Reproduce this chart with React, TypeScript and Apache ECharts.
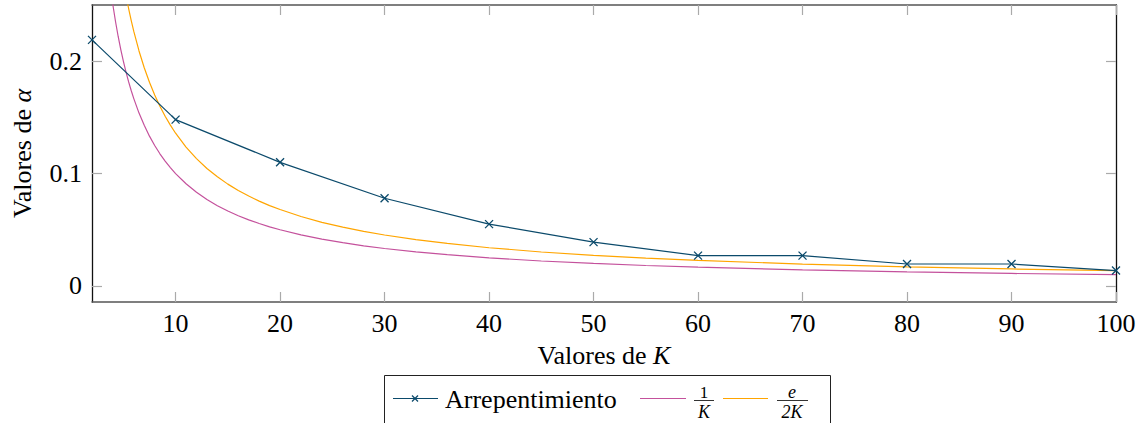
import React, { useEffect, useRef } from "react";
import * as echarts from "echarts";

const regretK = [2, 10, 20, 30, 40, 50, 60, 70, 80, 90, 100];
const regretVals = [0.219, 0.148, 0.11, 0.078, 0.055, 0.039, 0.027, 0.027, 0.0195, 0.0195, 0.0137];

const curveK = [2, 2.5, 3, 3.5, 4, 4.25, 4.5, 4.75, 5, 5.25, 5.5, 5.75, 6, 6.5, 7, 7.5, 8, 8.5, 9, 9.5, 10, 11, 12, 13, 14, 15, 16, 17, 18, 19, 20, 22, 24, 26, 28, 30, 33, 36, 40, 45, 50, 55, 60, 70, 80, 90, 100];
const invK = [0.5, 0.4, 0.3333, 0.2857, 0.25, 0.2353, 0.2222, 0.2105, 0.2, 0.1905, 0.1818, 0.1739, 0.1667, 0.1538, 0.1429, 0.1333, 0.125, 0.1176, 0.1111, 0.1053, 0.1, 0.0909, 0.0833, 0.0769, 0.0714, 0.0667, 0.0625, 0.0588, 0.0556, 0.0526, 0.05, 0.0455, 0.0417, 0.0385, 0.0357, 0.0333, 0.0303, 0.0278, 0.025, 0.0222, 0.02, 0.0182, 0.0167, 0.0143, 0.0125, 0.0111, 0.01];
const eOver2K = [0.6796, 0.5437, 0.4531, 0.3883, 0.3398, 0.3198, 0.302, 0.2861, 0.2718, 0.2589, 0.2471, 0.2364, 0.2265, 0.2091, 0.1942, 0.1812, 0.1699, 0.1599, 0.151, 0.1431, 0.1359, 0.1236, 0.1133, 0.1045, 0.0971, 0.0906, 0.0849, 0.08, 0.0755, 0.0715, 0.068, 0.0618, 0.0566, 0.0523, 0.0485, 0.0453, 0.0412, 0.0378, 0.034, 0.0302, 0.0272, 0.0247, 0.0227, 0.0194, 0.017, 0.0151, 0.0136];

const xTicks = [10, 20, 30, 40, 50, 60, 70, 80, 90, 100];
const yTicks = [0, 0.1, 0.2];

const NAVY = "#0b4a6b";
const PINK = "#c4519c";
const ORANGE = "#ffa500";
const FONT = "Liberation Serif";
const FS = 26;

export default function App() {
  const ref = useRef<HTMLDivElement>(null);
  useEffect(() => {
    const chart = echarts.init(ref.current!, null, { renderer: "svg" });
    const tickStyle = { show: true, inside: true, length: 10, lineStyle: { color: "#aaa", width: 1.2 } };
    const hLine = { show: true, onZero: false, lineStyle: { color: "#555", width: 1.5 } };
    const vLine = { show: true, onZero: false, lineStyle: { color: "#111", width: 1.3 } };
    chart.setOption({
      animation: false,
      backgroundColor: "#fff",
      textStyle: { fontFamily: FONT },
      grid: { left: 92, right: 31, top: 5, bottom: 121, containLabel: false },
      xAxis: [
        {
          type: "value",
          min: 2,
          max: 100,
          axisLine: hLine,
          axisTick: { ...tickStyle, customValues: xTicks },
          axisLabel: { customValues: xTicks, color: "#000", fontFamily: FONT, fontSize: FS, margin: 8 },
          splitLine: { show: false },
          name: "Valores de {i|K}",
          nameLocation: "middle",
          nameGap: 40,
          nameTextStyle: {
            color: "#000",
            fontFamily: FONT,
            fontSize: FS,
            rich: { i: { fontStyle: "italic", fontFamily: FONT, fontSize: FS } },
          },
        },
        {
          type: "value",
          position: "top",
          min: 2,
          max: 100,
          axisLine: hLine,
          axisTick: { ...tickStyle, customValues: xTicks },
          axisLabel: { show: false },
          splitLine: { show: false },
        },
      ],
      yAxis: [
        {
          type: "value",
          min: -0.0143,
          max: 0.25,
          axisLine: vLine,
          axisTick: { ...tickStyle, customValues: yTicks },
          axisLabel: {
            customValues: yTicks,
            color: "#000",
            fontFamily: FONT,
            fontSize: FS,
            margin: 10,
            formatter: (v: number) => (v === 0 ? "0" : String(Math.round(v * 10) / 10)),
          },
          splitLine: { show: false },
          name: "Valores de {i|α}",
          nameLocation: "middle",
          nameRotate: 90,
          nameGap: 57,
          nameTextStyle: {
            color: "#000",
            fontFamily: FONT,
            fontSize: FS,
            rich: { i: { fontStyle: "italic", fontFamily: FONT, fontSize: FS } },
          },
        },
        {
          type: "value",
          position: "right",
          min: -0.0143,
          max: 0.25,
          axisLine: vLine,
          axisTick: { ...tickStyle, customValues: yTicks },
          axisLabel: { show: false },
          splitLine: { show: false },
        },
      ],
      series: [
        {
          name: "1/K",
          type: "line",
          data: curveK.map((k, i) => [k, invK[i]]),
          showSymbol: false,
          clip: true,
          lineStyle: { color: PINK, width: 1.2 },
          itemStyle: { color: PINK },
        },
        {
          name: "e/2K",
          type: "line",
          data: curveK.map((k, i) => [k, eOver2K[i]]),
          showSymbol: false,
          clip: true,
          lineStyle: { color: ORANGE, width: 1.2 },
          itemStyle: { color: ORANGE },
        },
        {
          name: "Arrepentimiento",
          type: "line",
          data: regretK.map((k, i) => [k, regretVals[i]]),
          symbol: "path://M0,0L10,10M10,0L0,10",
          symbolSize: 8,
          clip: false,
          lineStyle: { color: NAVY, width: 1.2 },
          itemStyle: { color: "none", borderColor: NAVY, borderWidth: 1.3 },
        },
      ],
      graphic: [
        {
          type: "rect",
          shape: { x: 384.5, y: 375.5, width: 446, height: 60 },
          style: { fill: "#fff", stroke: "#222", lineWidth: 1 },
          z: 100,
        },
        { type: "line", shape: { x1: 393, y1: 398.5, x2: 438, y2: 398.5 }, style: { stroke: NAVY, lineWidth: 1.2 }, z: 101 },
        { type: "line", shape: { x1: 412, y1: 395.5, x2: 418, y2: 401.5 }, style: { stroke: NAVY, lineWidth: 1.2 }, z: 101 },
        { type: "line", shape: { x1: 418, y1: 395.5, x2: 412, y2: 401.5 }, style: { stroke: NAVY, lineWidth: 1.2 }, z: 101 },
        {
          type: "text",
          x: 445,
          y: 399,
          style: { text: "Arrepentimiento", fontFamily: FONT, fontSize: FS, fill: "#000", textVerticalAlign: "middle" },
          z: 101,
        },
        { type: "line", shape: { x1: 640, y1: 398.5, x2: 686, y2: 398.5 }, style: { stroke: PINK, lineWidth: 1.2 }, z: 101 },
        {
          type: "text",
          x: 704,
          y: 392,
          style: { text: "1", fontFamily: FONT, fontSize: 17, fill: "#000", textAlign: "center", textVerticalAlign: "middle" },
          z: 101,
        },
        { type: "line", shape: { x1: 694, y1: 400.5, x2: 714, y2: 400.5 }, style: { stroke: "#000", lineWidth: 0.8 }, z: 101 },
        {
          type: "text",
          x: 704,
          y: 412,
          style: { text: "K", fontFamily: FONT, fontStyle: "italic", fontSize: 18, fill: "#000", textAlign: "center", textVerticalAlign: "middle" },
          z: 101,
        },
        { type: "line", shape: { x1: 723, y1: 398.5, x2: 768, y2: 398.5 }, style: { stroke: ORANGE, lineWidth: 1.2 }, z: 101 },
        {
          type: "text",
          x: 792,
          y: 392,
          style: { text: "e", fontFamily: FONT, fontStyle: "italic", fontSize: 18, fill: "#000", textAlign: "center", textVerticalAlign: "middle" },
          z: 101,
        },
        { type: "line", shape: { x1: 777, y1: 400.5, x2: 808, y2: 400.5 }, style: { stroke: "#000", lineWidth: 0.8 }, z: 101 },
        {
          type: "text",
          x: 792,
          y: 412,
          style: { text: "2K", fontFamily: FONT, fontStyle: "italic", fontSize: 18, fill: "#000", textAlign: "center", textVerticalAlign: "middle" },
          z: 101,
        },
      ],
    });
    return () => chart.dispose();
  }, []);
  return (
    <div
      ref={ref}
      style={{ position: "fixed", left: 0, top: 0, width: 1147, height: 423, background: "#fff" }}
    />
  );
}
